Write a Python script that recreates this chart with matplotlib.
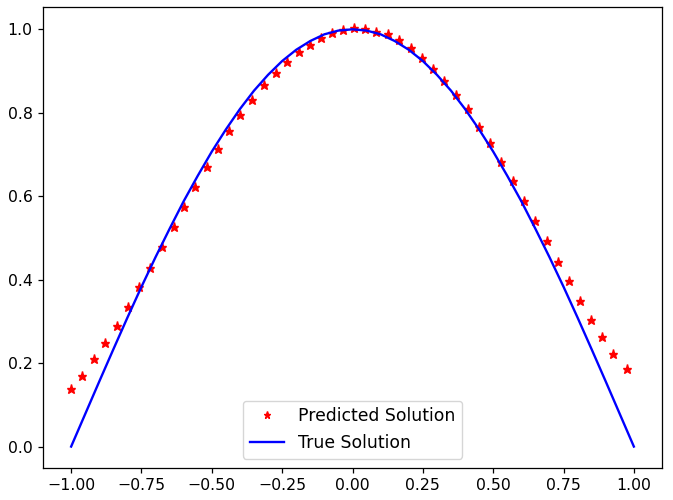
import matplotlib
matplotlib.use('Agg')
import matplotlib.pyplot as plt

# predicted solution (stars)
x_pred = [-1.000, -0.961, -0.920, -0.878, -0.837, -0.798, -0.758, -0.719, -0.677, -0.636,
          -0.598, -0.559, -0.518, -0.477, -0.438, -0.400, -0.358, -0.315, -0.273, -0.232,
          -0.190, -0.151, -0.112, -0.072, -0.033, 0.006, 0.046, 0.085, 0.126, 0.167,
          0.207, 0.248, 0.286, 0.324, 0.369, 0.410, 0.449, 0.489, 0.528, 0.570,
          0.611, 0.650, 0.690, 0.729, 0.768, 0.809, 0.848, 0.887, 0.927, 0.974]
y_pred = [0.138, 0.169, 0.209, 0.249, 0.290, 0.335, 0.382, 0.429, 0.478, 0.527,
          0.575, 0.622, 0.670, 0.712, 0.756, 0.795, 0.830, 0.866, 0.895, 0.922,
          0.946, 0.963, 0.978, 0.990, 0.998, 1.004, 1.001, 0.994, 0.988, 0.974,
          0.955, 0.932, 0.906, 0.877, 0.843, 0.808, 0.767, 0.727, 0.682, 0.637,
          0.589, 0.541, 0.493, 0.443, 0.396, 0.348, 0.304, 0.262, 0.221, 0.185]

# true solution (blue line)
x_true = [-1.00, -0.95, -0.90, -0.85, -0.80, -0.75, -0.70, -0.65, -0.60, -0.55, -0.50,
          -0.45, -0.40, -0.35, -0.30, -0.25, -0.20, -0.15, -0.10, -0.05, 0.00,
          0.05, 0.10, 0.15, 0.20, 0.25, 0.30, 0.35, 0.40, 0.45, 0.50,
          0.55, 0.60, 0.65, 0.70, 0.75, 0.80, 0.85, 0.90, 0.95, 1.00]
y_true = [0.000, 0.078, 0.156, 0.233, 0.309, 0.383, 0.454, 0.522, 0.588, 0.649, 0.707,
          0.760, 0.809, 0.853, 0.891, 0.924, 0.951, 0.972, 0.988, 0.997, 1.000,
          0.997, 0.988, 0.972, 0.951, 0.924, 0.891, 0.853, 0.809, 0.760, 0.707,
          0.649, 0.588, 0.522, 0.454, 0.383, 0.309, 0.233, 0.156, 0.078, 0.000]

s = 1.13  # scale of the reference relative to default sizes

fig = plt.figure(figsize=(6.73, 5.0), dpi=100)
ax = fig.add_axes([43 / 673, 32.5 / 500, 619 / 673, 460.8 / 500])

ax.plot(x_pred, y_pred, '*', color='red', markersize=6 * s, label='Predicted Solution')
ax.plot(x_true, y_true, '-', color='blue', linewidth=1.5 * s, label='True Solution')

ax.tick_params(labelsize=10 * s, width=0.8 * s, length=3.5 * s)
for sp in ax.spines.values():
    sp.set_linewidth(0.8 * s)

ax.legend(loc='lower center', fontsize=12.4, markerscale=0.75)

plt.savefig('out.png', dpi=100)
